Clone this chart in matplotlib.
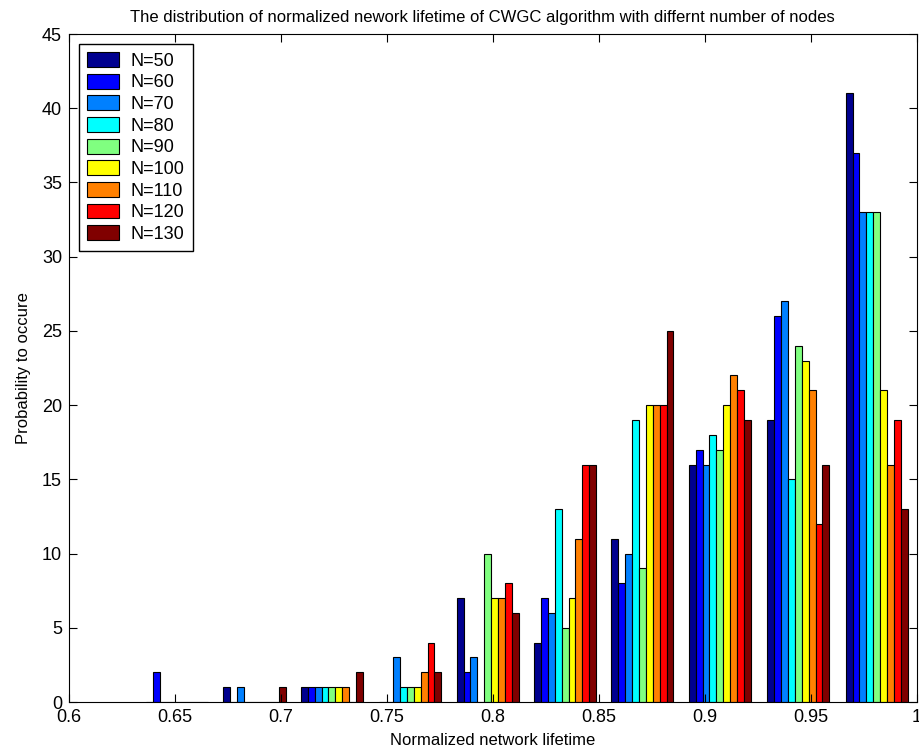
import numpy as np
import matplotlib.pyplot as plt

plt.rcParams['font.family'] = ['Liberation Sans', 'DejaVu Sans']

# bin centres of the histogram (normalized lifetime)
centers = [0.651, 0.6875, 0.724, 0.761, 0.7975, 0.834, 0.8705, 0.907, 0.944, 0.981]
labels = ["N=50", "N=60", "N=70", "N=80", "N=90", "N=100", "N=110", "N=120", "N=130"]

n50 = [0, 1, 1, 0, 7, 4, 11, 16, 19, 41]
n60 = [2, 0, 1, 0, 2, 7, 8, 17, 26, 37]
n70 = [0, 1, 1, 3, 3, 6, 10, 16, 27, 33]
n80 = [0, 0, 1, 1, 0, 13, 19, 18, 15, 33]
n90 = [0, 0, 1, 1, 10, 5, 9, 17, 24, 33]
n100 = [0, 0, 1, 1, 7, 7, 20, 20, 23, 21]
n110 = [0, 0, 1, 2, 7, 11, 20, 22, 21, 16]
n120 = [0, 0, 0, 4, 8, 16, 20, 21, 12, 19]
n130 = [0, 1, 2, 2, 6, 16, 25, 19, 16, 13]
series = [n50, n60, n70, n80, n90, n100, n110, n120, n130]

colors = ['#00008F', '#0000FF', '#0080FF', '#00FFFF', '#80FF80',
          '#FFFF00', '#FF8000', '#FF0000', '#800000']

fig = plt.figure(figsize=(9.19, 7.56), dpi=100)
ax = fig.add_axes([0.0751, 0.0714, 0.9227, 0.8836])

x = np.array(centers)
step = 0.0366
w = step * 0.8 / 9
for i, s in enumerate(series):
    ax.bar(x + (i - 4) * w, s, width=w, color=colors[i], edgecolor='black',
           linewidth=0.8, label=labels[i])

ax.set_xlim(0.6, 1.0)
ax.set_ylim(0, 45)
ax.set_xticks(np.arange(0.6, 1.0001, 0.05))
ax.set_xticklabels(["0.6", "0.65", "0.7", "0.75", "0.8", "0.85", "0.9", "0.95", "1"])
ax.set_yticks(np.arange(0, 46, 5))
ax.tick_params(direction='in', top=True, right=True, labelsize=13, length=6)
ax.tick_params(axis='x', pad=5)
ax.tick_params(axis='y', pad=5)
ax.set_xlabel("Normalized network lifetime", fontsize=12, labelpad=5)
ax.set_ylabel("Probability to occure", fontsize=12, labelpad=8)
ax.set_title("The distribution of normalized nework lifetime of CWGC algorithm with differnt number of nodes",
             fontsize=12, pad=9, x=0.487)
ax.legend(loc='upper left', fontsize=13, fancybox=False, framealpha=1,
          edgecolor='black', handlelength=1.77, handleheight=0.89,
          handletextpad=0.65, labelspacing=0.22, borderaxespad=0.55,
          borderpad=0.45)

plt.savefig("out.png")
